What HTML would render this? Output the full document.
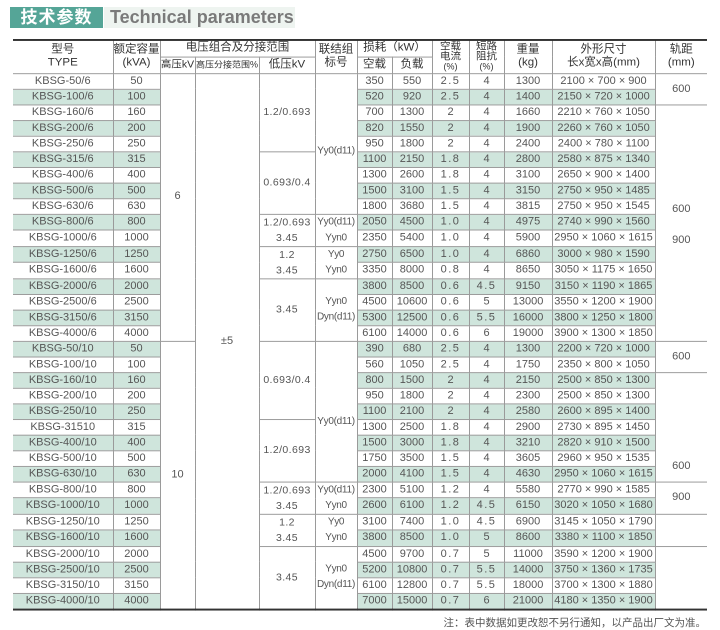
<!DOCTYPE html>
<html><head><meta charset="utf-8"><style>
body{margin:0;width:720px;height:630px;background:#fff;position:relative;overflow:hidden;font-family:"Liberation Sans","Noto Sans CJK SC",sans-serif;}
.t1{position:absolute;left:10px;top:7px;width:93px;height:21px;background:#55a597;color:#fff;font-weight:bold;font-size:17px;line-height:21px;text-align:center;letter-spacing:1px;}
.t2{position:absolute;left:104px;top:7px;width:191px;height:21px;background:#eef4f0;color:#7a7a7a;font-weight:bold;font-size:18px;line-height:21px;padding-left:6px;box-sizing:border-box;}
table{position:absolute;left:13px;top:39px;width:694px;border-collapse:collapse;table-layout:fixed;border-top:2px solid #333;border-bottom:2px solid #333;transform:scaleY(0.977);transform-origin:0 0;}
td{padding:0;text-align:center;vertical-align:middle;border:1px solid #9a9a9a;font-size:11px;color:#555;line-height:15px;white-space:nowrap;overflow:hidden;}
td:first-child{border-left:none}
td.r{border-right:none}
thead td{color:#333;font-size:11.5px;line-height:13px;}
thead tr{height:17px}
tbody tr{height:16px}
.s td.h{background:#cfe5dc}
.n{letter-spacing:1.5px}
.lv{font-size:10.5px;letter-spacing:0.4px}
.cn{font-size:10px;letter-spacing:-0.3px}
.sm{font-size:9px;line-height:9px}
.note{position:absolute;right:14px;top:615px;font-size:10.5px;color:#555;}
</style></head><body>
<div class="t1">技术参数</div><div class="t2">Technical parameters</div>
<table>
<colgroup><col style="width:100px"><col style="width:47px"><col style="width:35px"><col style="width:64px"><col style="width:56px"><col style="width:42px"><col style="width:35px"><col style="width:40px"><col style="width:37px"><col style="width:35px"><col style="width:48px"><col style="width:103px"><col style="width:52px"></colgroup>
<thead>
<tr><td rowspan="2">型号<br>TYPE</td><td rowspan="2">额定容量<br>(kVA)</td><td colspan="3">电压组合及分接范围</td><td rowspan="2">联结组<br>标号</td><td colspan="2">损耗（kW）</td><td rowspan="2" style="line-height:10px;font-size:10.5px">空载<br>电流<br><span class="sm">(%)</span></td><td rowspan="2" style="line-height:10px;font-size:10.5px">短路<br>阻抗<br><span class="sm">(%)</span></td><td rowspan="2">重量<br>(kg)</td><td rowspan="2">外形尺寸<br>长x宽x高(mm)</td><td rowspan="2" class="r">轨距<br>(mm)</td></tr>
<tr><td style="font-size:10.5px">高压kV</td><td style="font-size:9px">高压分接范围%</td><td>低压kV</td><td>空载</td><td>负载</td></tr>
</thead>
<tbody>
<tr><td class="h">KBSG-50/6</td><td class="h">50</td><td rowspan="17" style="padding-bottom:22px">6</td><td rowspan="34">±5</td><td rowspan="5" class="lv">1.2/0.693</td><td rowspan="9" class="cn" style="padding-top:14px">Yy0(d11)</td><td class="h">350</td><td class="h">550</td><td class="h n">2.5</td><td class="h">4</td><td class="h">1300</td><td class="h">2100 × 700 × 900</td><td rowspan="2" class="r">600</td></tr>
<tr class="s"><td class="h">KBSG-100/6</td><td class="h">100</td><td class="h">520</td><td class="h">920</td><td class="h n">2.5</td><td class="h">4</td><td class="h">1400</td><td class="h">2150 × 720 × 1000</td></tr>
<tr><td class="h">KBSG-160/6</td><td class="h">160</td><td class="h">700</td><td class="h">1300</td><td class="h">2</td><td class="h">4</td><td class="h">1660</td><td class="h">2210 × 760 × 1050</td><td rowspan="15" class="r" style="line-height:32px;padding-top:4px">600<br>900</td></tr>
<tr class="s"><td class="h">KBSG-200/6</td><td class="h">200</td><td class="h">820</td><td class="h">1550</td><td class="h">2</td><td class="h">4</td><td class="h">1900</td><td class="h">2260 × 760 × 1050</td></tr>
<tr><td class="h">KBSG-250/6</td><td class="h">250</td><td class="h">950</td><td class="h">1800</td><td class="h">2</td><td class="h">4</td><td class="h">2400</td><td class="h">2400 × 780 × 1100</td></tr>
<tr class="s"><td class="h">KBSG-315/6</td><td class="h">315</td><td rowspan="4" class="lv">0.693/0.4</td><td class="h">1100</td><td class="h">2150</td><td class="h n">1.8</td><td class="h">4</td><td class="h">2800</td><td class="h">2580 × 875 × 1340</td></tr>
<tr><td class="h">KBSG-400/6</td><td class="h">400</td><td class="h">1300</td><td class="h">2600</td><td class="h n">1.8</td><td class="h">4</td><td class="h">3100</td><td class="h">2650 × 900 × 1400</td></tr>
<tr class="s"><td class="h">KBSG-500/6</td><td class="h">500</td><td class="h">1500</td><td class="h">3100</td><td class="h n">1.5</td><td class="h">4</td><td class="h">3150</td><td class="h">2750 × 950 × 1485</td></tr>
<tr><td class="h">KBSG-630/6</td><td class="h">630</td><td class="h">1800</td><td class="h">3680</td><td class="h n">1.5</td><td class="h">4</td><td class="h">3815</td><td class="h">2750 × 950 × 1545</td></tr>
<tr class="s"><td class="h">KBSG-800/6</td><td class="h">800</td><td rowspan="2" class="lv" style="line-height:16px">1.2/0.693<br>3.45</td><td rowspan="2" class="cn" style="line-height:16px">Yy0(d11)<br>Yyn0</td><td class="h">2050</td><td class="h">4500</td><td class="h n">1.0</td><td class="h">4</td><td class="h">4975</td><td class="h">2740 × 990 × 1560</td></tr>
<tr><td class="h">KBSG-1000/6</td><td class="h">1000</td><td class="h">2350</td><td class="h">5400</td><td class="h n">1.0</td><td class="h">4</td><td class="h">5900</td><td class="h">2950 × 1060 × 1615</td></tr>
<tr class="s"><td class="h">KBSG-1250/6</td><td class="h">1250</td><td rowspan="2" class="lv" style="line-height:16px">1.2<br>3.45</td><td rowspan="2" class="cn" style="line-height:16px">Yy0<br>Yyn0</td><td class="h">2750</td><td class="h">6500</td><td class="h n">1.0</td><td class="h">4</td><td class="h">6860</td><td class="h">3000 × 980 × 1590</td></tr>
<tr><td class="h">KBSG-1600/6</td><td class="h">1600</td><td class="h">3350</td><td class="h">8000</td><td class="h n">0.8</td><td class="h">4</td><td class="h">8650</td><td class="h">3050 × 1175 × 1650</td></tr>
<tr class="s"><td class="h">KBSG-2000/6</td><td class="h">2000</td><td rowspan="4" class="lv">3.45</td><td rowspan="4" class="cn" style="line-height:16px">Yyn0<br>Dyn(d11)</td><td class="h">3800</td><td class="h">8500</td><td class="h n">0.6</td><td class="h n">4.5</td><td class="h">9150</td><td class="h">3150 × 1190 × 1865</td></tr>
<tr><td class="h">KBSG-2500/6</td><td class="h">2500</td><td class="h">4500</td><td class="h">10600</td><td class="h n">0.6</td><td class="h">5</td><td class="h">13000</td><td class="h">3550 × 1200 × 1900</td></tr>
<tr class="s"><td class="h">KBSG-3150/6</td><td class="h">3150</td><td class="h">5300</td><td class="h">12500</td><td class="h n">0.6</td><td class="h n">5.5</td><td class="h">16000</td><td class="h">3800 × 1250 × 1800</td></tr>
<tr><td class="h">KBSG-4000/6</td><td class="h">4000</td><td class="h">6100</td><td class="h">14000</td><td class="h n">0.6</td><td class="h">6</td><td class="h">19000</td><td class="h">3900 × 1300 × 1850</td></tr>
<tr class="s"><td class="h">KBSG-50/10</td><td class="h">50</td><td rowspan="17">10</td><td rowspan="5" class="lv">0.693/0.4</td><td rowspan="9" class="cn" style="padding-top:20px">Yy0(d11)</td><td class="h">390</td><td class="h">680</td><td class="h n">2.5</td><td class="h">4</td><td class="h">1300</td><td class="h">2200 × 720 × 1000</td><td rowspan="2" class="r">600</td></tr>
<tr><td class="h">KBSG-100/10</td><td class="h">100</td><td class="h">560</td><td class="h">1050</td><td class="h n">2.5</td><td class="h">4</td><td class="h">1750</td><td class="h">2350 × 800 × 1050</td></tr>
<tr class="s"><td class="h">KBSG-160/10</td><td class="h">160</td><td class="h">800</td><td class="h">1500</td><td class="h">2</td><td class="h">4</td><td class="h">2150</td><td class="h">2500 × 850 × 1300</td><td rowspan="7" class="r" style="vertical-align:bottom;padding-bottom:8px">600</td></tr>
<tr><td class="h">KBSG-200/10</td><td class="h">200</td><td class="h">950</td><td class="h">1800</td><td class="h">2</td><td class="h">4</td><td class="h">2300</td><td class="h">2500 × 850 × 1300</td></tr>
<tr class="s"><td class="h">KBSG-250/10</td><td class="h">250</td><td class="h">1100</td><td class="h">2100</td><td class="h">2</td><td class="h">4</td><td class="h">2580</td><td class="h">2600 × 895 × 1400</td></tr>
<tr><td class="h">KBSG-31510</td><td class="h">315</td><td rowspan="4" class="lv">1.2/0.693</td><td class="h">1300</td><td class="h">2500</td><td class="h n">1.8</td><td class="h">4</td><td class="h">2900</td><td class="h">2730 × 895 × 1450</td></tr>
<tr class="s"><td class="h">KBSG-400/10</td><td class="h">400</td><td class="h">1500</td><td class="h">3000</td><td class="h n">1.8</td><td class="h">4</td><td class="h">3210</td><td class="h">2820 × 910 × 1500</td></tr>
<tr><td class="h">KBSG-500/10</td><td class="h">500</td><td class="h">1750</td><td class="h">3500</td><td class="h n">1.5</td><td class="h">4</td><td class="h">3605</td><td class="h">2960 × 950 × 1535</td></tr>
<tr class="s"><td class="h">KBSG-630/10</td><td class="h">630</td><td class="h">2000</td><td class="h">4100</td><td class="h n">1.5</td><td class="h">4</td><td class="h">4630</td><td class="h">2950 × 1060 × 1615</td></tr>
<tr><td class="h">KBSG-800/10</td><td class="h">800</td><td rowspan="2" class="lv" style="line-height:16px">1.2/0.693<br>3.45</td><td rowspan="2" class="cn" style="line-height:16px">Yy0(d11)<br>Yyn0</td><td class="h">2300</td><td class="h">5100</td><td class="h n">1.2</td><td class="h">4</td><td class="h">5580</td><td class="h">2770 × 990 × 1585</td><td rowspan="2" class="r">900</td></tr>
<tr class="s"><td class="h">KBSG-1000/10</td><td class="h">1000</td><td class="h">2600</td><td class="h">6100</td><td class="h n">1.2</td><td class="h n">4.5</td><td class="h">6150</td><td class="h">3020 × 1050 × 1680</td></tr>
<tr><td class="h">KBSG-1250/10</td><td class="h">1250</td><td rowspan="2" class="lv" style="line-height:16px">1.2<br>3.45</td><td rowspan="2" class="cn" style="line-height:16px">Yy0<br>Yyn0</td><td class="h">3100</td><td class="h">7400</td><td class="h n">1.0</td><td class="h n">4.5</td><td class="h">6900</td><td class="h">3145 × 1050 × 1790</td><td rowspan="2" class="r"></td></tr>
<tr class="s"><td class="h">KBSG-1600/10</td><td class="h">1600</td><td class="h">3800</td><td class="h">8500</td><td class="h n">1.0</td><td class="h">5</td><td class="h">8600</td><td class="h">3380 × 1100 × 1850</td></tr>
<tr><td class="h">KBSG-2000/10</td><td class="h">2000</td><td rowspan="4" class="lv">3.45</td><td rowspan="4" class="cn" style="line-height:16px">Yyn0<br>Dyn(d11)</td><td class="h">4500</td><td class="h">9700</td><td class="h n">0.7</td><td class="h">5</td><td class="h">11000</td><td class="h">3590 × 1200 × 1900</td><td rowspan="4" class="r"></td></tr>
<tr class="s"><td class="h">KBSG-2500/10</td><td class="h">2500</td><td class="h">5200</td><td class="h">10800</td><td class="h n">0.7</td><td class="h n">5.5</td><td class="h">14000</td><td class="h">3750 × 1360 × 1735</td></tr>
<tr><td class="h">KBSG-3150/10</td><td class="h">3150</td><td class="h">6100</td><td class="h">12800</td><td class="h n">0.7</td><td class="h n">5.5</td><td class="h">18000</td><td class="h">3700 × 1300 × 1880</td></tr>
<tr class="s"><td class="h">KBSG-4000/10</td><td class="h">4000</td><td class="h">7000</td><td class="h">15000</td><td class="h n">0.7</td><td class="h">6</td><td class="h">21000</td><td class="h">4180 × 1350 × 1900</td></tr>
</tbody>
</table>
<div class="note">注：表中数据如更改恕不另行通知，以产品出厂文为准。</div>
</body></html>
